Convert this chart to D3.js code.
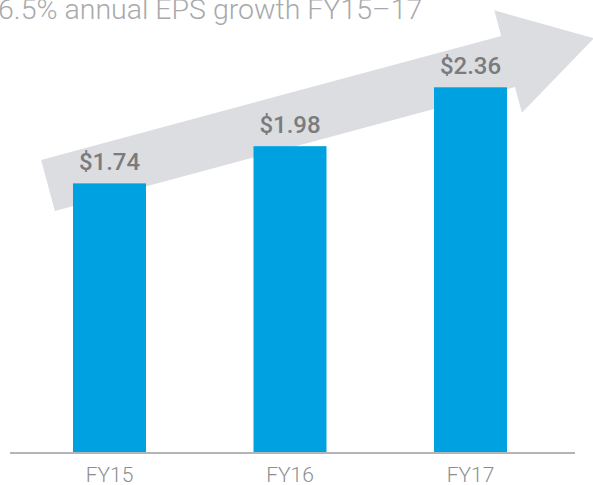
<!DOCTYPE html>
<html>
<head>
<meta charset="utf-8">
<script src="https://cdn.jsdelivr.net/npm/d3@7"></script>
<style>
    body { margin: 0; background: #fff; }
    svg { display: block; font-family: Roboto, "Noto Sans", sans-serif; }
    .title { font-weight: 300; font-size: 28.5px; fill: #a8a9ac; }
    .value-label { font-weight: 500; font-size: 24px; fill: #7a7b7e; }
    .axis-label { font-weight: 300; font-size: 21px; fill: #8d8e91; }
</style>
</head>
<body>
<div id="chart"></div>
<script>
const categories = ["FY15", "FY16", "FY17"];
const eps = [1.74, 1.98, 2.36];
const valueLabels = ["$1.74", "$1.98", "$2.36"];
const title = "6.5% annual EPS growth FY15\u201317";

const width = 593;
const height = 485;
const baseline = 453;

const svg = d3.select("#chart")
    .append("svg")
    .attr("width", width)
    .attr("height", height);

const x = d3.scaleBand()
    .domain(categories)
    .range([19.25, 560.75])
    .paddingInner(0.5956)
    .paddingOuter(0.2978);

const y = d3.scaleLinear()
    .domain([0, 2.36])
    .range([baseline, 87.3]);

// big grey arrow behind the bars
function arrowPoints(x0, y0, x1, y1, shaftW, headW, headL) {
    const len = Math.hypot(x1 - x0, y1 - y0);
    const ux = (x1 - x0) / len, uy = (y1 - y0) / len;
    const nx = -uy, ny = ux;
    const bx = x1 - ux * headL, by = y1 - uy * headL;
    const p = (cx, cy, w) => [cx + nx * w, cy + ny * w];
    return [
        p(x0, y0, -shaftW / 2),
        p(bx, by, -shaftW / 2),
        p(bx, by, -headW / 2),
        [x1, y1],
        p(bx, by, headW / 2),
        p(bx, by, shaftW / 2),
        p(x0, y0, shaftW / 2)
    ];
}

const pts = arrowPoints(48, 185.5, 594, 38.3, 53, 106, 89);
svg.append("polygon")
    .attr("points", pts.map(d => d.join(",")).join(" "))
    .attr("fill", "#dcdde0");

svg.append("text")
    .attr("class", "title")
    .attr("x", -2)
    .attr("y", 19)
    .text(title);

svg.selectAll(".bar")
    .data(eps)
    .enter()
    .append("rect")
    .attr("class", "bar")
    .attr("x", (d, i) => x(categories[i]))
    .attr("y", d => y(d))
    .attr("width", x.bandwidth())
    .attr("height", d => baseline - y(d))
    .attr("fill", "#00a1e1");

svg.selectAll(".value-label")
    .data(eps)
    .enter()
    .append("text")
    .attr("class", "value-label")
    .attr("x", (d, i) => x(categories[i]) + x.bandwidth() / 2)
    .attr("y", d => y(d) - 13)
    .attr("text-anchor", "middle")
    .text((d, i) => valueLabels[i]);

// baseline
svg.append("line")
    .attr("x1", 10)
    .attr("x2", 575)
    .attr("y1", baseline)
    .attr("y2", baseline)
    .attr("stroke", "#b3b4b7")
    .attr("stroke-width", 2);

svg.selectAll(".axis-label")
    .data(categories)
    .enter()
    .append("text")
    .attr("class", "axis-label")
    .attr("x", d => x(d) + x.bandwidth() / 2)
    .attr("y", 482)
    .attr("text-anchor", "middle")
    .text(d => d);
</script>
</body>
</html>
